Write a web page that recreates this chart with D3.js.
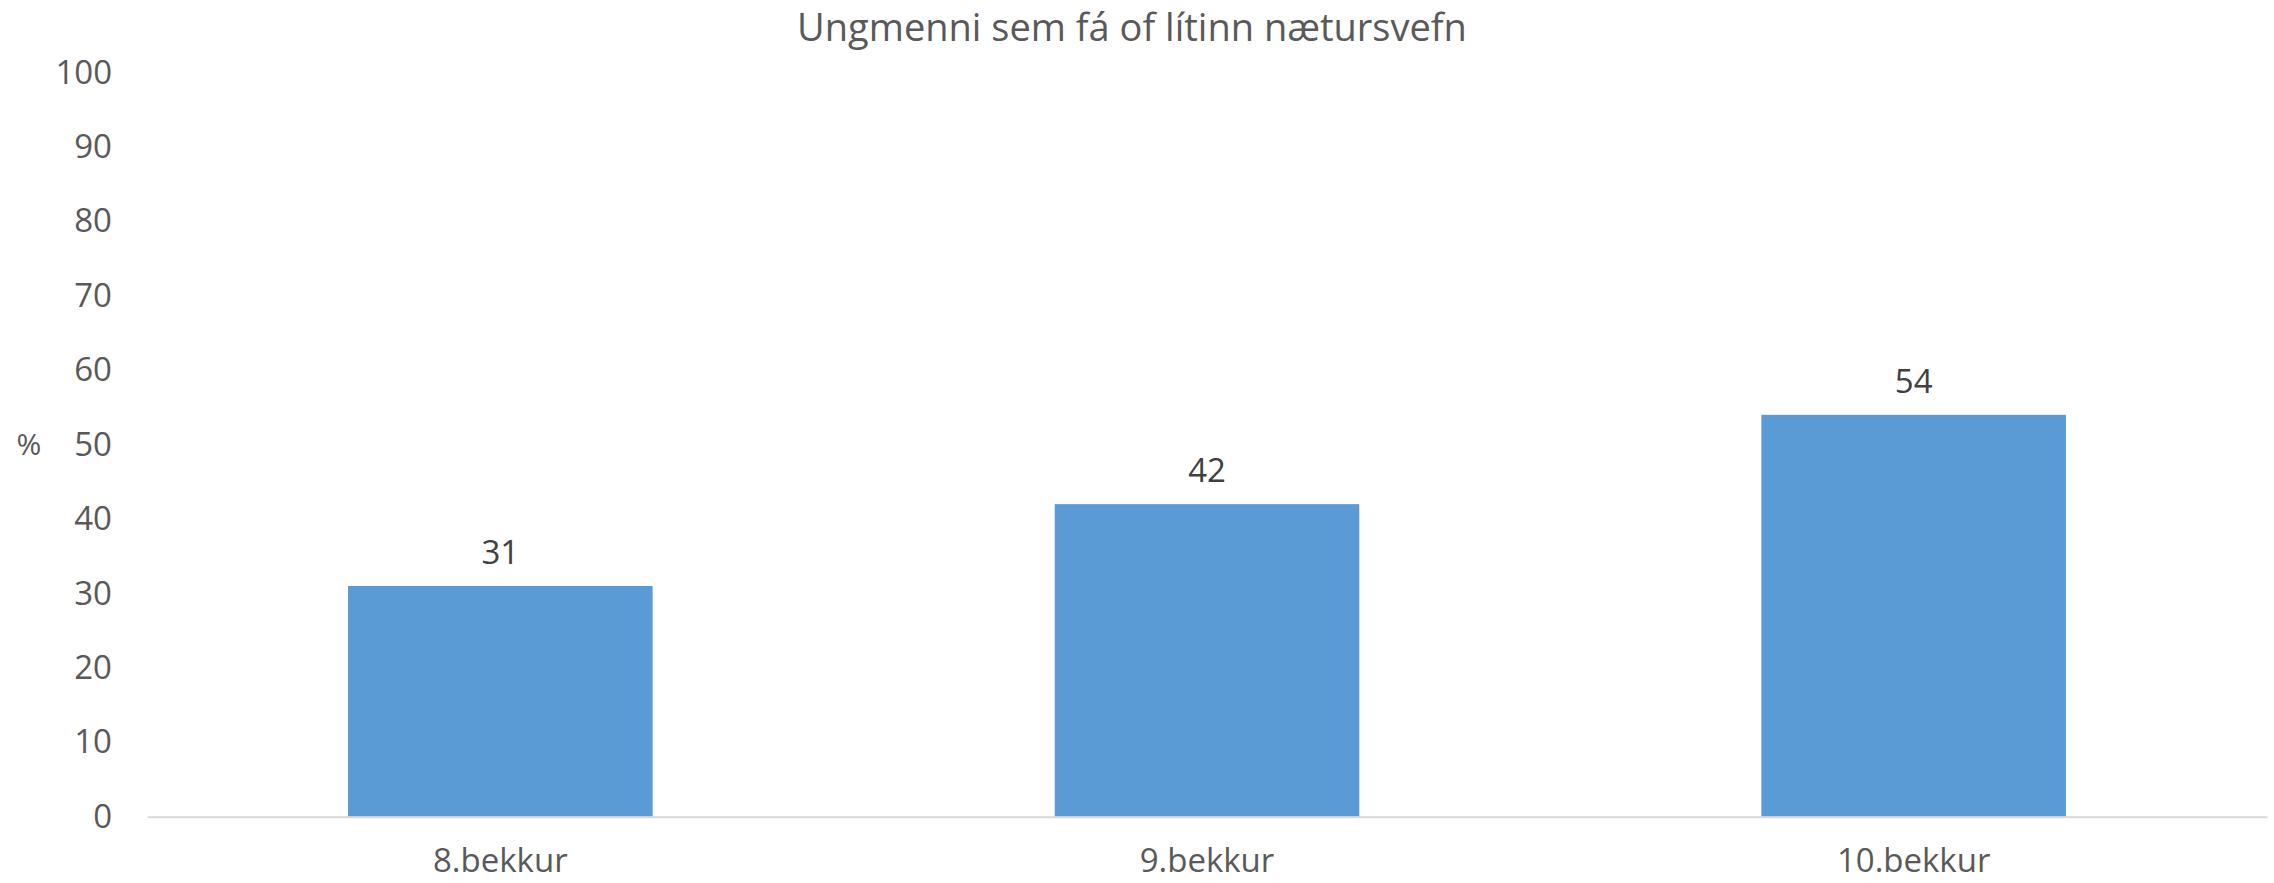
<!DOCTYPE html>
<html>
<head>
<meta charset="utf-8">
<script src="https://cdn.jsdelivr.net/npm/d3@7"></script>
<style>
  body { margin: 0; background: #fff; }
  svg text { font-family: "Open Sans", Lato, sans-serif; }
</style>
</head>
<body>
<div id="chart"></div>
<script>
  // data
  const categories = ["8.bekkur", "9.bekkur", "10.bekkur"];
  const values = [31, 42, 54];
  const yTicks = [0, 10, 20, 30, 40, 50, 60, 70, 80, 90, 100];
  const chartTitle = "Ungmenni sem fá of lítinn nætursvefn";
  const yLabel = "%";

  const width = 2274, height = 883;
  const plot = { left: 147, right: 2267, top: 72.5, bottom: 816.7 };

  const svg = d3.select("#chart").append("svg")
    .attr("width", width)
    .attr("height", height);

  const x = d3.scaleBand()
    .domain(categories)
    .range([plot.left, plot.right])
    .paddingInner(0.569)
    .paddingOuter(0.569 / 2);

  const y = d3.scaleLinear()
    .domain([0, 100])
    .range([plot.bottom, plot.top]);

  // title
  svg.append("text")
    .attr("x", 1132)
    .attr("y", 41)
    .attr("text-anchor", "middle")
    .style("font-size", "38px")
    .style("fill", "#595959")
    .text(chartTitle);

  // y axis (labels only)
  const yAxis = svg.append("g")
    .attr("transform", `translate(${plot.left},0)`)
    .call(d3.axisLeft(y).tickValues(yTicks).tickSize(0).tickPadding(35));
  yAxis.select(".domain").remove();
  yAxis.selectAll("text")
    .style("font-size", "33px")
    .style("fill", "#595959");

  svg.append("text")
    .attr("x", 29)
    .attr("y", (plot.top + plot.bottom) / 2)
    .attr("dy", "0.35em")
    .attr("text-anchor", "middle")
    .style("font-size", "30px")
    .style("fill", "#595959")
    .text(yLabel);

  // bars
  svg.selectAll(".bar")
    .data(values)
    .enter()
    .append("rect")
    .attr("class", "bar")
    .attr("x", (d, i) => x(categories[i]))
    .attr("y", d => y(d))
    .attr("width", x.bandwidth())
    .attr("height", d => y(0) - y(d))
    .style("fill", "#5b9bd5");

  // value labels
  svg.selectAll(".val")
    .data(values)
    .enter()
    .append("text")
    .attr("class", "val")
    .attr("x", (d, i) => x(categories[i]) + x.bandwidth() / 2)
    .attr("y", d => y(d) - 22)
    .attr("text-anchor", "middle")
    .style("font-size", "33px")
    .style("fill", "#404040")
    .text(d => d);

  // x axis
  const xAxis = svg.append("g")
    .attr("transform", `translate(0,${plot.bottom})`)
    .call(d3.axisBottom(x).tickSize(0).tickPadding(32));
  xAxis.select(".domain")
    .attr("stroke", "#d9d9d9")
    .attr("stroke-width", 2);
  xAxis.selectAll("text")
    .style("font-size", "33px")
    .style("fill", "#595959");
</script>
</body>
</html>
